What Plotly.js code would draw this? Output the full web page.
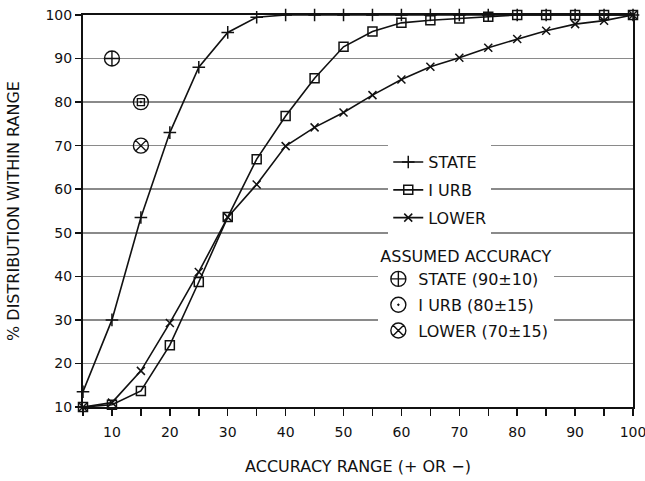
<!DOCTYPE html>
<html>
<head>
<meta charset="utf-8">
<script src="https://cdn.plot.ly/plotly-3.0.1.min.js"></script>
<style>
  html, body { margin: 0; padding: 0; background: #fff; }
  #chart { width: 645px; height: 481px; }
</style>
</head>
<body>
<div id="chart"></div>
<script>
// Accuracy range (+ or -), percent
const accuracyRange = [5, 10, 15, 20, 25, 30, 35, 40, 45, 50, 55, 60, 65, 70, 75, 80, 85, 90, 95, 100];

// Cumulative % distribution within range, by level
const stateDist = [13.5, 30, 53.5, 73, 88, 96, 99.5, 100, 100, 100, 100, 100, 100, 100, 100, 100, 100, 100, 100, 100];
const iUrbDist  = [10, 10.5, 13.7, 24.2, 38.7, 53.6, 66.9, 76.8, 85.5, 92.7, 96.2, 98.2, 98.8, 99.2, 99.6, 100, 100, 100, 100, 100];
const lowerDist = [10, 11, 18.3, 29.3, 41, 53.6, 61.1, 69.9, 74.2, 77.6, 81.6, 85.2, 88.1, 90.2, 92.5, 94.5, 96.4, 97.9, 98.7, 100];

// Assumed accuracy: [range, percent] for each level
const assumedNames = ['STATE (90\u00B110)', 'I URB (80\u00B115)', 'LOWER (70\u00B115)'];
const assumedRange = [10, 15, 15];
const assumedPct   = [90, 80, 70];

const seriesNames = ['STATE', 'I URB', 'LOWER'];

const INK = '#111';
const FONT = 'DejaVu Sans, Arial, sans-serif';

function curve(name, y, symbol, size, group) {
  return {
    type: 'scatter', mode: 'lines+markers', name: name,
    x: accuracyRange, y: y,
    line: { color: INK, width: 1.6 },
    marker: { symbol: symbol, size: size, color: INK,
              line: { color: INK, width: 1.5 } },
    cliponaxis: false, legend: 'legend', legendgroup: group
  };
}

function assumed(i, symbol, size, showlegend) {
  return {
    type: 'scatter', mode: 'markers', name: assumedNames[i],
    x: [assumedRange[i]], y: [assumedPct[i]],
    marker: { symbol: symbol, size: size, color: INK,
              line: { color: INK, width: 1.4 } },
    cliponaxis: false, legend: 'legend2', legendgroup: 'a' + i,
    showlegend: showlegend
  };
}

const traces = [
  curve(seriesNames[0], stateDist, 'cross-thin-open', 9, 'g0'),
  curve(seriesNames[1], iUrbDist, 'square-open', 9, 'g1'),
  curve(seriesNames[2], lowerDist, 'x-thin-open', 8, 'g2'),
  assumed(0, 'circle-cross-open', 15, true),
  assumed(1, 'circle-open-dot', 15, true),
  assumed(1, 'square-open', 7, false),
  assumed(2, 'circle-x-open', 15, true)
];

const layout = {
  width: 645, height: 481,
  margin: { l: 83, r: 12, t: 15, b: 74, pad: 0 },
  paper_bgcolor: '#fff', plot_bgcolor: '#fff',
  font: { family: FONT, size: 14, color: INK },
  showlegend: true,
  xaxis: {
    range: [5, 100], tick0: 0, dtick: 10,
    ticks: 'outside', ticklen: 7, tickwidth: 1.5, tickcolor: INK,
    ticklabelstandoff: 4, ticklabeloverflow: 'allow',
    minor: { dtick: 5, ticks: 'outside', ticklen: 7, tickwidth: 1.5, tickcolor: INK, showgrid: false },
    showgrid: false, zeroline: false,
    showline: true, linecolor: INK, linewidth: 2, mirror: true,
    tickfont: { family: FONT, size: 14, color: INK },
    title: { text: 'ACCURACY RANGE (+ OR \u2212)', font: { family: FONT, size: 16, color: INK }, standoff: 22 }
  },
  yaxis: {
    range: [10, 100], tick0: 0, dtick: 10,
    ticks: 'outside', ticklen: 6, tickwidth: 1.5, tickcolor: INK,
    ticklabeloverflow: 'allow',
    showgrid: true, gridcolor: '#8a8a8a', gridwidth: 1.5, zeroline: false,
    showline: true, linecolor: INK, linewidth: 2, mirror: true,
    tickfont: { family: FONT, size: 14, color: INK },
    title: { text: '% DISTRIBUTION WITHIN RANGE', font: { family: FONT, size: 16, color: INK }, standoff: 22 }
  },
  legend: {
    x: 0.555, y: 0.668, xanchor: 'left', yanchor: 'top',
    bgcolor: '#fff', borderwidth: 0,
    traceorder: 'grouped', tracegroupgap: 4,
    font: { family: FONT, size: 16, color: INK }
  },
  legend2: {
    x: 0.537, y: 0.423, xanchor: 'left', yanchor: 'top',
    bgcolor: '#fff', borderwidth: 0,
    traceorder: 'grouped', tracegroupgap: 2,
    title: { text: 'ASSUMED ACCURACY', font: { family: FONT, size: 16, color: INK } },
    font: { family: FONT, size: 16, color: INK }
  },
  shapes: [
    { type: 'rect', xref: 'paper', yref: 'paper', layer: 'between',
      x0: 0.507, x1: 0.758, y0: 0.40, y1: 0.66,
      fillcolor: '#fff', line: { width: 0 } },
    { type: 'rect', xref: 'paper', yref: 'paper', layer: 'between',
      x0: 0.509, x1: 0.88, y0: 0.17, y1: 0.42,
      fillcolor: '#fff', line: { width: 0 } }
  ]
};

Plotly.newPlot('chart', traces, layout, { displayModeBar: false, staticPlot: true });
</script>
</body>
</html>
